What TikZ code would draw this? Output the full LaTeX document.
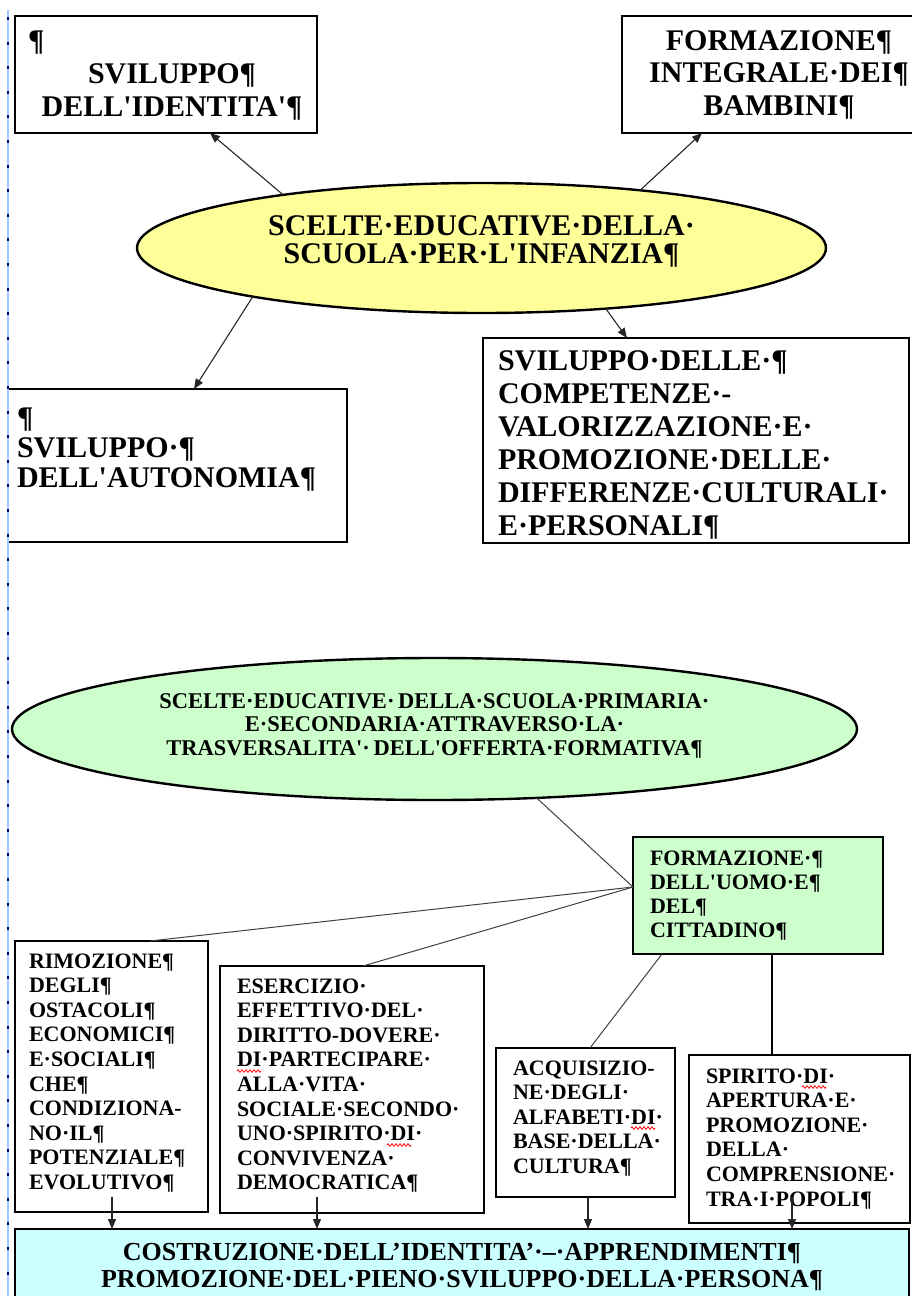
\documentclass[tikz,border=0pt]{standalone}
\usepackage{fontspec}
\newfontfamily\tnr{Liberation Serif}
\usetikzlibrary{shapes.geometric,arrows.meta,calc,decorations.pathmorphing}
\definecolor{yel}{HTML}{FFFF99}
\definecolor{grn}{HTML}{CCFFCC}
\definecolor{cyn}{HTML}{CCFFFF}
\definecolor{marg}{HTML}{99CCFF}
\newcommand\szTop{\fontsize{30}{33}\selectfont}
\newcommand\szLL{\fontsize{30}{30}\selectfont}
\newcommand\szGE{\fontsize{22.5}{23.5}\selectfont}
\newcommand\szGB{\fontsize{22}{24}\selectfont}
\newcommand\szBot{\fontsize{22}{24.6}\selectfont}
\newcommand\szBar{\fontsize{26}{27}\selectfont}
\tikzset{
  wbox/.style={draw=black, line width=1.5pt, rectangle, anchor=north west,
    inner ysep=0pt, outer sep=0pt},
  ell/.style={draw=black, line width=2.4pt, ellipse, inner sep=0pt, outer sep=0pt,
    align=center},
  arr/.style={-{Triangle[length=10pt,width=8pt]}, line width=1.1pt, draw=black!85},
  conn/.style={line width=1pt, draw=black!75},
  conn2/.style={line width=1.4pt, draw=black},
  squig/.style={draw=red, line width=0.8pt, decorate,
    decoration={zigzag, amplitude=1.3pt, segment length=4pt}},
}
\begin{document}
\begin{tikzpicture}[x=1pt,y=-1pt]
\useasboundingbox (0,0) rectangle (911,1296);
% top section
\node[wbox, inner xsep=13pt, text width=276pt, text height=34pt, text depth=83pt,
  align=center, font=\tnr\bfseries\szTop] (tl) at (15,16)
  {\makebox[\linewidth][l]{¶}\\\hspace*{12pt}SVILUPPO¶\\\hspace*{12pt}DELL'IDENTITA'¶};
\node[wbox, inner xsep=13pt, text width=288pt, text height=34pt, text depth=83pt,
  align=center, font=\tnr\bfseries\fontsize{30}{32.5}\selectfont] (tr) at (622,16)
  {FORMAZIONE¶\\INTEGRALE·DEI¶\\BAMBINI¶};
\node[ell, fill=yel, minimum width=689pt, minimum height=130pt, text width=470pt,
  text height=10pt, text depth=36pt, font=\tnr\bfseries\fontsize{30}{28}\selectfont]
  (ye) at (481.5,248) {SCELTE·EDUCATIVE·DELLA·\\SCUOLA·PER·L'INFANZIA¶};
\node[wbox, inner xsep=9pt, text width=321pt, text height=38pt, text depth=115pt,
  align=left, font=\tnr\bfseries\szLL] (ll) at (8,389)
  {¶\\SVILUPPO·¶\\DELL'AUTONOMIA¶};
\node[wbox, inner xsep=15pt, text width=396pt, text height=32pt, text depth=173pt,
  align=left, font=\tnr\bfseries\szTop] (lr) at (483,338)
  {SVILUPPO·DELLE·¶\\COMPETENZE·-\\VALORIZZAZIONE·E·\\PROMOZIONE·DELLE·\\DIFFERENZE·CULTURALI·\\E·PERSONALI¶};
% lower section
\node[ell, fill=grn, minimum width=845pt, minimum height=142pt, text width=590pt,
  text height=10pt, text depth=52pt, font=\tnr\bfseries\szGE] (ge) at (434.5,729)
  {SCELTE·EDUCATIVE·\,DELLA·SCUOLA·PRIMARIA·\\E·SECONDARIA·ATTRAVERSO·LA·\\TRASVERSALITA'·\,DELL'OFFERTA·FORMATIVA¶};
\node[wbox, fill=grn, inner xsep=17pt, text width=216pt, text height=28pt, text depth=89pt,
  align=left, font=\tnr\bfseries\szGB] (gb) at (633,837)
  {FORMAZIONE·¶\\DELL'UOMO·E¶\\DEL¶\\CITTADINO¶};
\node[wbox, inner xsep=14pt, text width=165pt, text height=27pt, text depth=244pt,
  align=left, font=\tnr\bfseries\szBot] (b1) at (15,941)
  {RIMOZIONE¶\\DEGLI¶\\OSTACOLI¶\\ECONOMICI¶\\E·SOCIALI¶\\CHE¶\\CONDIZIONA-\\NO·IL¶\\POTENZIALE¶\\EVOLUTIVO¶};
\node[wbox, inner xsep=17pt, text width=230pt, text height=27pt, text depth=220pt,
  align=left, font=\tnr\bfseries\szBot] (b2) at (220,966)
  {ESERCIZIO·\\EFFETTIVO·DEL·\\DIRITTO-DOVERE·\\DI·PARTECIPARE·\\ALLA·VITA·\\SOCIALE·SECONDO·\\UNO·SPIRITO·DI·\\CONVIVENZA·\\DEMOCRATICA¶};
\node[wbox, inner xsep=17pt, text width=145pt, text height=27pt, text depth=122pt,
  align=left, font=\tnr\bfseries\szBot] (b3) at (496,1048)
  {ACQUISIZIO-\\NE·DEGLI·\\ALFABETI·DI·\\BASE·DELLA·\\CULTURA¶};
\node[wbox, inner xsep=17pt, text width=187pt, text height=28pt, text depth=140pt,
  align=left, font=\tnr\bfseries\szBot] (b4) at (689,1055)
  {SPIRITO·DI·\\APERTURA·E·\\PROMOZIONE·\\DELLA·\\COMPRENSIONE·\\TRA·I·POPOLI¶};
\node[wbox, fill=cyn, inner xsep=10pt, text width=874pt, text height=31pt, text depth=69pt,
  align=center, font=\tnr\bfseries\szBar] (bar) at (15,1229)
  {COSTRUZIONE·DELL’IDENTITA’·–·APPRENDIMENTI¶\\PROMOZIONE·DEL·PIENO·SVILUPPO·DELLA·PERSONA¶};
% spell-check squiggles
\draw[squig] ($(b2.north west)+(17,105)$) -- ++(24,0);
\draw[squig] ($(b2.north west)+(167,179)$) -- ++(24,0);
\draw[squig] ($(b3.north west)+(135,80)$) -- ++(24,0);
\draw[squig] ($(b4.north west)+(113,32)$) -- ++(24,0);
% connectors top
\draw[arr] (ye.165.6) -- ($(tl.south west)+(195,0)$);
\draw[arr] (ye.20.3) -- ($(tr.south west)+(80,0)$);
\draw[arr] (ye.192.6) -- ($(ll.north west)+(186,0)$);
\draw[arr] (ye.334) -- ($(lr.north west)+(144,0)$);
% connectors bottom
\coordinate (hub) at ($(gb.north west)+(0,50)$);
\draw[conn] (ge.-34) -- (hub);
\draw[conn] (hub) -- ($(b1.north west)+(135,0)$);
\draw[conn] (hub) -- ($(b2.north west)+(143,0)$);
\draw[conn] ($(gb.south west)+(29,0)$) -- ($(b3.north west)+(94,0)$);
\draw[conn2] ($(gb.south west)+(139,0)$) -- ($(b4.north west)+(83,0)$);
\draw[arr] ($(b1.south west)+(97,-15)$) -- ($(bar.north west)+(97,0)$);
\draw[arr] ($(b2.south west)+(97,-16)$) -- ($(bar.north west)+(302,0)$);
\draw[arr] ($(b3.south west)+(92,0)$) -- ($(bar.north west)+(573,0)$);
\draw[arr] ($(b4.south west)+(103,-26)$) -- ($(bar.north west)+(777,0)$);
% margin
\draw[marg, line width=1.6pt] (8,10) -- (8,1296);
\draw[blue!45!black, line width=1.6pt, dash pattern=on 3pt off 21.6pt] (8,17) -- (8,1296);
\end{tikzpicture}
\end{document}
